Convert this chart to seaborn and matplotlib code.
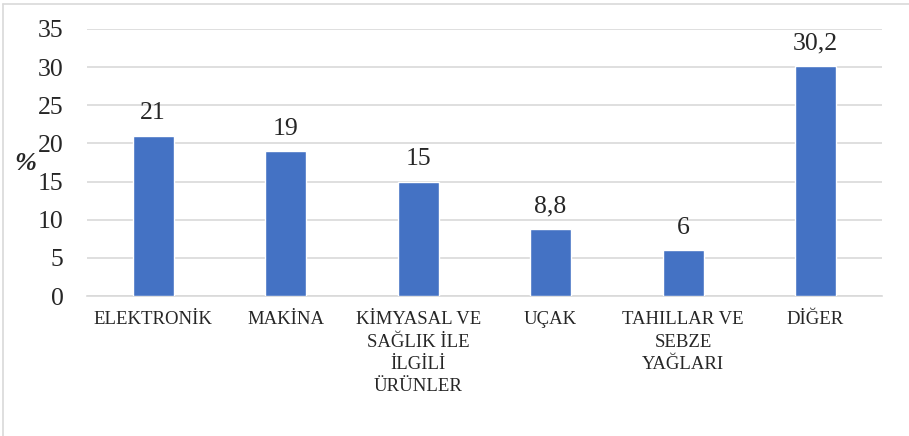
import matplotlib
matplotlib.use("Agg")
import matplotlib.pyplot as plt
import seaborn as sns
import pandas as pd

# DATA
categories = ["ELEKTRONİK", "MAKİNA", "KİMYASAL VE\nSAĞLIK İLE\nİLGİLİ\nÜRÜNLER",
              "UÇAK", "TAHILLAR VE\nSEBZE\nYAĞLARI", "DİĞER"]
values = [21, 19, 15, 8.8, 6, 30.2]
value_labels = ["21", "19", "15", "8,8", "6", "30,2"]
y_ticks = [0, 5, 10, 15, 20, 25, 30, 35]

df = pd.DataFrame({"kategori": categories, "deger": values})

sns.set_style("white")
plt.rcParams["font.family"] = ["Liberation Serif", "DejaVu Serif"]

fig = plt.figure(figsize=(9.09, 4.36), dpi=100)
ax = fig.add_axes([0.0957, 0.321, 0.8743, 0.6125])

sns.barplot(data=df, x="kategori", y="deger", color="#4472C4", width=0.31,
            saturation=1, ax=ax, zorder=3)

ax.set_ylim(0, 35)
ax.set_yticks(y_ticks)
ax.set_yticklabels([str(t) for t in y_ticks], fontsize=18.5)
ax.yaxis.grid(True, color="#D9D9D9", linewidth=1.2, zorder=0)
ax.set_axisbelow(True)
for s in ["top", "right", "left"]:
    ax.spines[s].set_visible(False)
ax.spines["bottom"].set_color("#D9D9D9")
ax.spines["bottom"].set_linewidth(1.2)
ax.tick_params(axis="both", length=0)
ax.tick_params(axis="x", pad=11)
ax.tick_params(axis="y", pad=17)
ax.set_xticks(range(len(categories)))
ax.set_xticklabels(categories, fontsize=13.5, linespacing=1.4, va="top")
ax.set_xlabel("")
ax.set_ylabel("")

for i, v in enumerate(values):
    ax.text(i, v + 1.5, value_labels[i], ha="center", va="bottom", fontsize=18.5)

fig.text(0.0275, 0.624, "%", fontsize=19, fontstyle="italic", fontweight="bold",
         ha="center", va="center")

# outer frame
fig.add_artist(plt.Line2D([0.0035, 0.0035], [0.0, 0.991], color="#D9D9D9", linewidth=1.2))
fig.add_artist(plt.Line2D([0.0035, 1.0], [0.991, 0.991], color="#D9D9D9", linewidth=1.2))

fig.savefig("out.png", dpi=100)
